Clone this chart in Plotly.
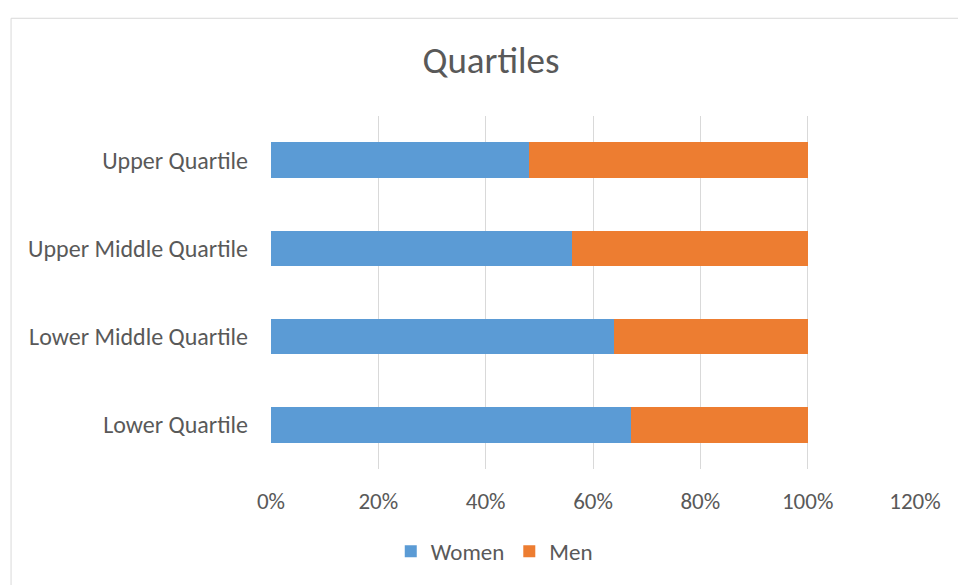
import plotly.graph_objects as go

categories = ["Upper Quartile", "Upper Middle Quartile", "Lower Middle Quartile", "Lower Quartile"]
women = [0.48, 0.56, 0.64, 0.67]
men = [0.52, 0.44, 0.36, 0.33]
x_ticks = [0, 0.2, 0.4, 0.6, 0.8, 1.0, 1.2]
x_tick_labels = ["0%", "20%", "40%", "60%", "80%", "100%", "120%"]

FONT = "Carlito, Lato, 'Open Sans', sans-serif"
TXT = "#595959"

fig = go.Figure()
fig.add_trace(go.Bar(y=categories, x=women, name="Women", orientation="h",
                     marker=dict(color="#5B9BD5", line=dict(width=0))))
fig.add_trace(go.Bar(y=categories, x=men, name="Men", orientation="h",
                     marker=dict(color="#ED7D31", line=dict(width=0))))

L, R, T, B = 270.6, 43, 115.5, 115.5
W, H = 958, 585
pw = W - L - R
ph = H - T - B

def px_x(p):
    return (p - L) / pw

def px_y(p):
    return (H - B - p) / ph

fig.update_layout(
    width=W, height=H,
    margin=dict(l=L, r=R, t=T, b=B, pad=0),
    barmode="stack", bargap=0.6,
    paper_bgcolor="white", plot_bgcolor="white",
    font=dict(family=FONT, color=TXT, size=23),
    title=dict(text="Quartiles", x=491 / W, xanchor="center", xref="container",
               y=1 - 60 / H, yanchor="middle", yref="container",
               font=dict(size=37, color=TXT, family=FONT)),
    xaxis=dict(range=[0, 1.2], tickvals=x_ticks, ticktext=x_tick_labels,
               showgrid=True, gridcolor="#d9d9d9", gridwidth=1,
               zeroline=False, showline=False, ticks="", ticklabelstandoff=16,
               tickfont=dict(size=23, color=TXT, family=FONT), fixedrange=True),
    yaxis=dict(autorange="reversed", showgrid=False, zeroline=False, showline=False,
               ticks="", ticklabelstandoff=22,
               tickfont=dict(size=24, color=TXT, family=FONT)),
    legend=dict(orientation="h", x=px_x(494), xanchor="center",
                y=px_y(552), yanchor="middle",
                font=dict(size=23, color=TXT, family=FONT),
                itemwidth=30, traceorder="normal"),
    showlegend=True,
    shapes=[dict(type="rect", xref="paper", yref="paper",
                 x0=px_x(10.5), x1=px_x(990), y0=px_y(620), y1=px_y(17.5),
                 line=dict(color="#d9d9d9", width=1), fillcolor="rgba(0,0,0,0)",
                 layer="below")],
)

fig.write_html("out.html")
